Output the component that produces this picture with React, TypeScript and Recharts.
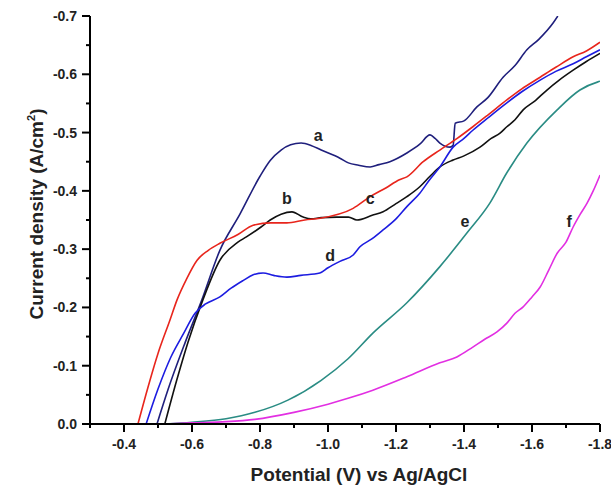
import React from "react"
import { Label, Line, LineChart, ReferenceDot, XAxis, YAxis } from "recharts"

// curve a (navy)
const potentialA = [-0.497, -0.53, -0.58, -0.629, -0.682, -0.741, -0.8, -0.83, -0.862, -0.89, -0.921, -0.95, -0.98, -1.035, -1.06, -1.09, -1.124, -1.15, -1.182, -1.232, -1.27, -1.30, -1.315, -1.329, -1.359, -1.368, -1.374, -1.40, -1.438, -1.47, -1.515, -1.55, -1.585, -1.62, -1.662, -1.676]
const currentA = [0, -0.06, -0.14, -0.213, -0.298, -0.36, -0.425, -0.452, -0.47, -0.479, -0.482, -0.478, -0.47, -0.456, -0.448, -0.444, -0.441, -0.445, -0.45, -0.465, -0.48, -0.496, -0.49, -0.482, -0.475, -0.478, -0.516, -0.52, -0.544, -0.56, -0.595, -0.615, -0.642, -0.66, -0.688, -0.70]

// curve b (black)
const potentialB = [-0.52, -0.555, -0.588, -0.632, -0.682, -0.735, -0.76, -0.803, -0.83, -0.862, -0.894, -0.927, -0.95, -0.98, -1.026, -1.06, -1.085, -1.13, -1.162, -1.2, -1.232, -1.27, -1.30, -1.329, -1.368, -1.40, -1.447, -1.48, -1.506, -1.526, -1.55, -1.574, -1.61, -1.644, -1.68, -1.721, -1.76, -1.80]
const currentB = [0, -0.075, -0.14, -0.213, -0.281, -0.312, -0.321, -0.338, -0.35, -0.36, -0.364, -0.355, -0.352, -0.354, -0.355, -0.355, -0.35, -0.358, -0.364, -0.378, -0.39, -0.407, -0.425, -0.441, -0.453, -0.46, -0.475, -0.49, -0.499, -0.51, -0.522, -0.539, -0.555, -0.573, -0.59, -0.607, -0.622, -0.636]

// curve c (red)
const potentialC = [-0.441, -0.471, -0.50, -0.535, -0.556, -0.585, -0.615, -0.648, -0.682, -0.735, -0.78, -0.832, -0.879, -0.932, -0.977, -1.074, -1.124, -1.17, -1.21, -1.232, -1.28, -1.329, -1.38, -1.426, -1.47, -1.526, -1.57, -1.624, -1.67, -1.721, -1.76, -1.80]
const currentC = [0, -0.064, -0.121, -0.178, -0.213, -0.25, -0.281, -0.298, -0.31, -0.325, -0.341, -0.345, -0.345, -0.35, -0.353, -0.37, -0.39, -0.405, -0.419, -0.424, -0.45, -0.47, -0.49, -0.51, -0.53, -0.556, -0.575, -0.595, -0.612, -0.63, -0.64, -0.655]

// curve d (blue)
const potentialD = [-0.465, -0.50, -0.538, -0.575, -0.609, -0.64, -0.682, -0.715, -0.75, -0.78, -0.809, -0.84, -0.879, -0.92, -0.976, -1.0, -1.035, -1.074, -1.094, -1.13, -1.162, -1.2, -1.232, -1.27, -1.30, -1.329, -1.368, -1.40, -1.426, -1.47, -1.526, -1.57, -1.624, -1.67, -1.721, -1.76, -1.80]
const currentD = [0, -0.06, -0.115, -0.155, -0.19, -0.206, -0.218, -0.233, -0.246, -0.256, -0.259, -0.255, -0.252, -0.255, -0.259, -0.268, -0.279, -0.29, -0.304, -0.318, -0.333, -0.352, -0.373, -0.396, -0.42, -0.441, -0.475, -0.49, -0.504, -0.525, -0.551, -0.57, -0.59, -0.605, -0.618, -0.63, -0.642]

// curve e (teal)
const potentialE = [-0.52, -0.6, -0.7, -0.785, -0.882, -0.98, -1.059, -1.132, -1.232, -1.329, -1.409, -1.476, -1.526, -1.585, -1.674, -1.741, -1.794, -1.80]
const currentE = [0, -0.003, -0.009, -0.02, -0.041, -0.075, -0.112, -0.156, -0.208, -0.27, -0.328, -0.379, -0.431, -0.482, -0.539, -0.573, -0.587, -0.588]

// curve f (magenta)
const potentialF = [-0.52, -0.6, -0.7, -0.785, -0.9, -1.0, -1.059, -1.132, -1.232, -1.329, -1.379, -1.426, -1.46, -1.497, -1.526, -1.55, -1.574, -1.6, -1.624, -1.65, -1.674, -1.70, -1.721, -1.742, -1.762, -1.78, -1.80]
const currentF = [0, -0.002, -0.004, -0.008, -0.02, -0.034, -0.044, -0.058, -0.081, -0.105, -0.115, -0.132, -0.145, -0.158, -0.173, -0.19, -0.201, -0.218, -0.235, -0.265, -0.293, -0.312, -0.338, -0.36, -0.379, -0.40, -0.427]

// curve letters
const letterNames = ["a", "b", "c", "d", "e", "f"]
const letterPotential = [-0.971, -0.879, -1.124, -1.006, -1.403, -1.709]
const letterCurrent = [-0.496, -0.388, -0.388, -0.29, -0.347, -0.347]

const xTicks = [-1.8, -1.7, -1.6, -1.5, -1.4, -1.3, -1.2, -1.1, -1.0, -0.9, -0.8, -0.7, -0.6, -0.5, -0.4, -0.3]
const yTicks = [-0.7, -0.65, -0.6, -0.55, -0.5, -0.45, -0.4, -0.35, -0.3, -0.25, -0.2, -0.15, -0.1, -0.05, 0]

const toData = (v: number[], j: number[]) => v.map((p, i) => ({ v: p, j: j[i] }))

const curves = [
  { name: "a", data: toData(potentialA, currentA), color: "#1f1f7c" },
  { name: "b", data: toData(potentialB, currentB), color: "#111111" },
  { name: "c", data: toData(potentialC, currentC), color: "#e8251c" },
  { name: "d", data: toData(potentialD, currentD), color: "#1c1ce0" },
  { name: "e", data: toData(potentialE, currentE), color: "#2a8c84" },
  { name: "f", data: toData(potentialF, currentF), color: "#e22fe2" },
]

const font = "'Liberation Sans', Arial, sans-serif"

const XTick = (props: any) => {
  const { x, y, payload } = props
  const major = Math.round(Math.abs(payload.value) * 10) % 2 === 0
  return (
    <g>
      <line x1={x} x2={x} y1={y} y2={y + (major ? 8 : 4)} stroke="#000" strokeWidth={2} />
      {major && (
        <text x={x} y={y + 25} textAnchor="middle" fontFamily={font} fontWeight="bold" fontSize={14} fill="#222">
          {payload.value.toFixed(1)}
        </text>
      )}
    </g>
  )
}

const YTick = (props: any) => {
  const { x, y, payload } = props
  const major = Math.round(Math.abs(payload.value) * 100) % 10 === 0
  return (
    <g>
      <line x1={x - (major ? 8 : 4)} x2={x} y1={y} y2={y} stroke="#000" strokeWidth={2} />
      {major && (
        <text x={x - 13} y={y + 5} textAnchor="end" fontFamily={font} fontWeight="bold" fontSize={14} fill="#222">
          {payload.value.toFixed(1)}
        </text>
      )}
    </g>
  )
}

const YTitle = () => (
  <text x={43} y={214} transform="rotate(-90, 43, 214)" textAnchor="middle" fontFamily={font} fontWeight="bold" fontSize={19} fill="#222">
    Current density (A/cm<tspan dy={-8} fontSize={11}>2</tspan><tspan dy={8}>)</tspan>
  </text>
)

const XTitle = () => (
  <text x={359} y={481} textAnchor="middle" fontFamily={font} fontWeight="bold" fontSize={19} fill="#222">
    Potential (V) vs Ag/AgCl
  </text>
)

const App = () => {
  return (
    <div style={{ position: "absolute", left: 0, top: 0, background: "#fff" }}>
      <LineChart width={611} height={487} margin={{ top: 16, right: 11, bottom: 0, left: 0 }}>
        <XAxis
          dataKey="v"
          type="number"
          domain={[-1.8, -0.3]}
          reversed
          allowDataOverflow
          ticks={xTicks}
          interval={0}
          tickSize={0}
          tickMargin={0}
          tickLine={false}
          tick={<XTick />}
          axisLine={{ stroke: "#000", strokeWidth: 2 }}
          height={63}
          label={<Label content={XTitle} />}
        />
        <XAxis xAxisId="top" orientation="top" type="number" domain={[-1.8, -0.3]} height={0} tick={false} tickLine={false} axisLine={{ stroke: "#000", strokeWidth: 2 }} />
        <YAxis
          type="number"
          domain={[-0.7, 0]}
          reversed
          allowDataOverflow
          ticks={yTicks}
          interval={0}
          tickSize={0}
          tickMargin={0}
          tickLine={false}
          tick={<YTick />}
          axisLine={{ stroke: "#000", strokeWidth: 2 }}
          width={90}
          label={<Label content={YTitle} />}
        />
        <YAxis yAxisId="right" orientation="right" type="number" domain={[-0.7, 0]} width={0} tick={false} tickLine={false} axisLine={{ stroke: "#000", strokeWidth: 2 }} />
        {curves.map((c) => (
          <Line
            key={c.name}
            data={c.data}
            dataKey="j"
            type="monotone"
            stroke={c.color}
            strokeWidth={1.6}
            dot={false}
            activeDot={false}
            isAnimationActive={false}
          />
        ))}
        {letterNames.map((n, i) => (
          <ReferenceDot
            key={n}
            x={letterPotential[i]}
            y={letterCurrent[i]}
            r={0}
            fill="none"
            stroke="none"
            label={{ value: n, position: "center", fontFamily: font, fontWeight: "bold", fontSize: 16, fill: "#222" }}
          />
        ))}
      </LineChart>
    </div>
  )
}

export default App
